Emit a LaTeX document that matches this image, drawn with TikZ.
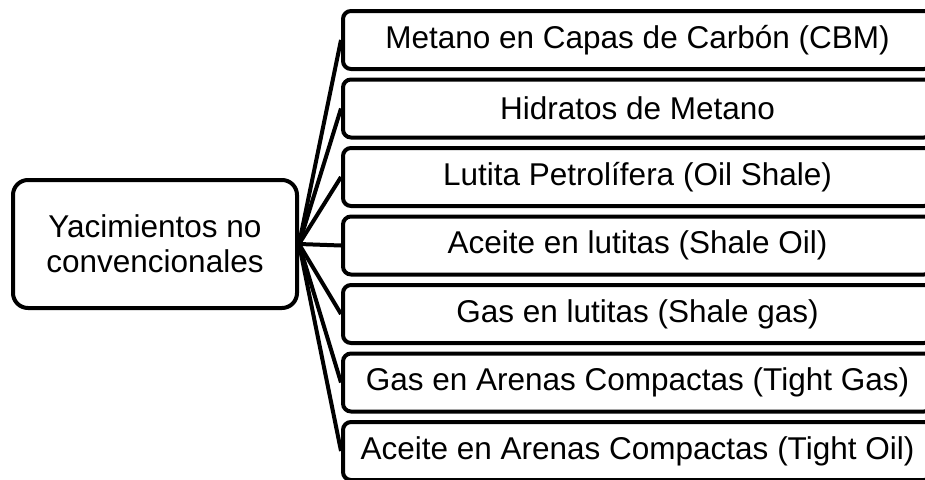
\documentclass[tikz,border=0pt]{standalone}
\usepackage{fontspec}
\setmainfont{Liberation Sans}
\begin{document}
\begin{tikzpicture}[x=1pt,y=-1pt,
  rootbox/.style={draw=black,line width=4pt,rounded corners=15pt,fill=white,
    minimum width=284pt,minimum height=128pt,inner sep=0pt,align=center,
    font=\fontsize{31.5}{35}\selectfont},
  leafbox/.style={draw=black,line width=4pt,rounded corners=8pt,fill=white,
    minimum width=589pt,minimum height=58pt,inner sep=0pt,
    font=\fontsize{31.5}{35}\selectfont},
  link/.style={draw=black,line width=4pt}]
\useasboundingbox (0,0) rectangle (925,479);
\clip (0,0) rectangle (925,479);
\fill[white] (0,0) rectangle (925,479);
\node[rootbox] (root) at (155,244) {Yacimientos no\\convencionales};
\node[leafbox] (l1) at (637.5,40) {Metano en Capas de Carbón (CBM)};
\node[leafbox] (l2) at (637.5,108.5) {Hidratos de Metano};
\node[leafbox] (l3) at (637.5,177) {Lutita Petrolífera (Oil Shale)};
\node[leafbox] (l4) at (637.5,245.5) {Aceite en lutitas (Shale Oil)};
\node[leafbox] (l5) at (637.5,314) {Gas en lutitas (Shale gas)};
\node[leafbox] (l6) at (637.5,382.5) {Gas en Arenas Compactas (Tight Gas)};
\node[leafbox] (l7) at (637.5,451) {Aceite en Arenas Compactas (Tight Oil)};
\foreach \k in {1,...,7}{
  \draw[link] (root.east) -- (l\k.west);
}
\end{tikzpicture}
\end{document}
